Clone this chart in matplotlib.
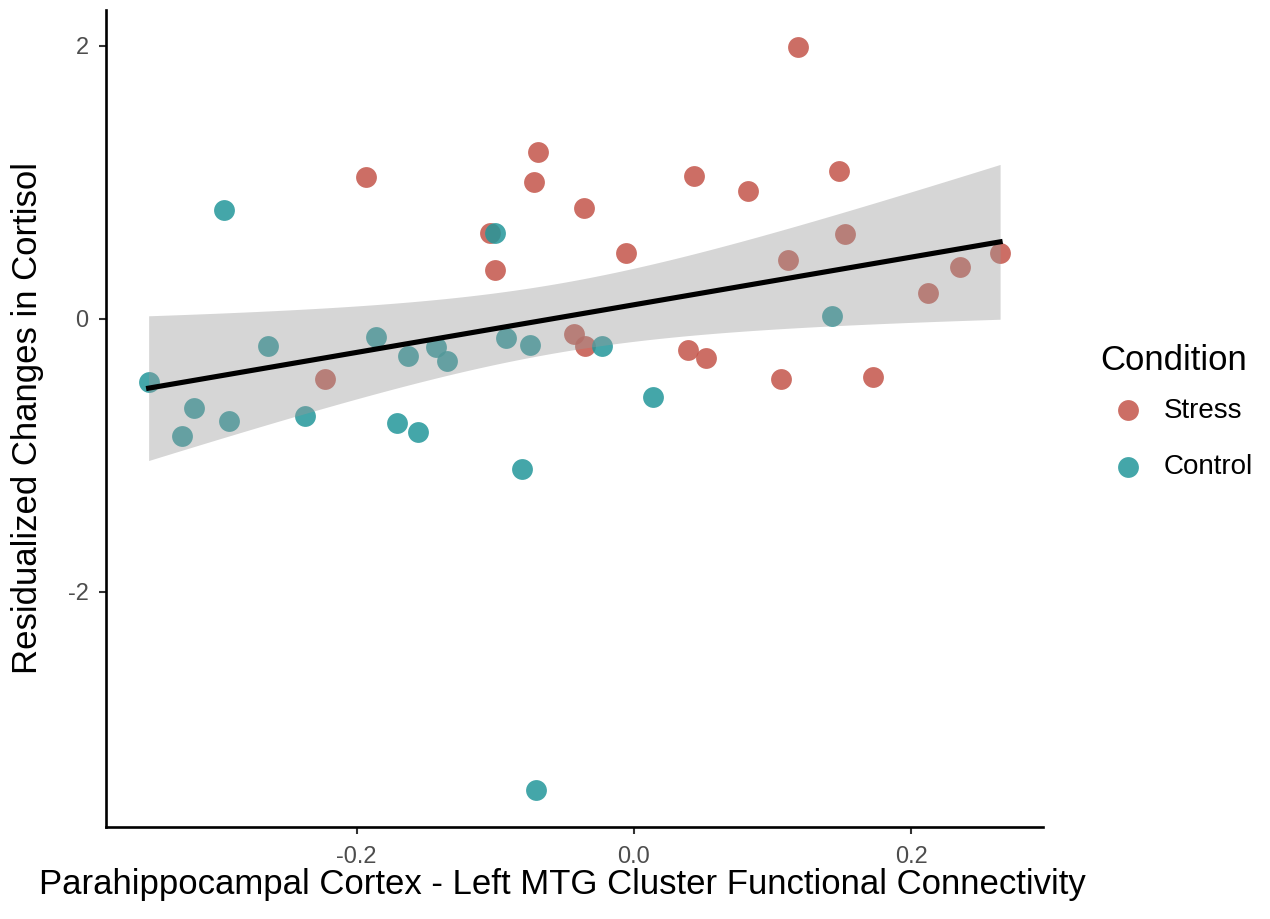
import numpy as np
import matplotlib
matplotlib.use('Agg')
import matplotlib.pyplot as plt

# Stress group (x = functional connectivity, y = residualized cortisol change)
stress_x = [0.118, -0.069, -0.072, -0.193, -0.036, -0.104, -0.100, -0.006,
            0.043, 0.082, 0.148, 0.152, 0.111, 0.264, 0.235, 0.212,
            -0.223, -0.043, -0.035, 0.039, 0.052, 0.106, 0.172]
stress_y = [1.99, 1.22, 1.00, 1.04, 0.81, 0.63, 0.36, 0.48,
            1.05, 0.94, 1.08, 0.62, 0.43, 0.48, 0.38, 0.19,
            -0.44, -0.11, -0.20, -0.23, -0.29, -0.44, -0.43]

# Control group
control_x = [-0.296, -0.100, -0.264, -0.186, -0.163, -0.143, -0.135, -0.092,
             -0.075, -0.350, -0.317, -0.292, -0.326, -0.237, -0.171, -0.156,
             -0.081, -0.023, 0.014, 0.143, -0.071]
control_y = [0.80, 0.63, -0.20, -0.13, -0.27, -0.21, -0.31, -0.14,
             -0.19, -0.46, -0.65, -0.75, -0.86, -0.71, -0.76, -0.83,
             -1.10, -0.20, -0.57, 0.02, -3.45]

x_ticks = [-0.2, 0.0, 0.2]
x_ticklabels = ['-0.2', '0.0', '0.2']
y_ticks = [-2, 0, 2]
y_ticklabels = ['-2', '0', '2']

stress_col = '#C4554A'
control_col = '#23979A'

plt.rcParams['font.family'] = ['Liberation Sans', 'DejaVu Sans']

fig = plt.figure(figsize=(12.7, 9.19), dpi=100)
ax = fig.add_axes([0.0835, 0.1004, 0.7375, 0.8886])

ax.scatter(stress_x, stress_y, s=225, color=stress_col, alpha=0.85,
           linewidths=0, label='Stress', zorder=2)
ax.scatter(control_x, control_y, s=225, color=control_col, alpha=0.85,
           linewidths=0, label='Control', zorder=2)

# linear fit over all points with 95% confidence band
xs = np.array(stress_x + control_x)
ys = np.array(stress_y + control_y)
n = len(xs)
slope, intercept = np.polyfit(xs, ys, 1)
resid = ys - (slope * xs + intercept)
s_err = np.sqrt(np.sum(resid ** 2) / (n - 2))
t_val = 2.018  # t(0.975, df=42)
xfit = np.linspace(xs.min(), xs.max(), 200)
yfit = slope * xfit + intercept
se = s_err * np.sqrt(1.0 / n + (xfit - xs.mean()) ** 2 / np.sum((xs - xs.mean()) ** 2))
ax.fill_between(xfit, yfit - t_val * se, yfit + t_val * se, color='#999999',
                alpha=0.4, linewidth=0, zorder=3)
ax.plot(xfit, yfit, color='black', lw=3.7, zorder=4)

# ggplot-like 5% expansion
xr = xs.max() - xs.min()
yr = ys.max() - ys.min()
ax.set_xlim(xs.min() - 0.05 * xr, xs.max() + 0.05 * xr)
ax.set_ylim(ys.min() - 0.05 * yr, ys.max() + 0.05 * yr)

ax.set_xticks(x_ticks)
ax.set_xticklabels(x_ticklabels)
ax.set_yticks(y_ticks)
ax.set_yticklabels(y_ticklabels)
ax.tick_params(axis='both', length=5, width=1.5, color='#333333',
               labelcolor='#4D4D4D')
ax.tick_params(axis='x', labelsize=17, pad=9)
ax.tick_params(axis='y', labelsize=17, pad=7.5)

for side in ['top', 'right']:
    ax.spines[side].set_visible(False)
for side in ['left', 'bottom']:
    ax.spines[side].set_linewidth(1.9)
    ax.spines[side].set_color('black')

ax.set_xlabel('Parahippocampal Cortex - Left MTG Cluster Functional Connectivity',
              fontsize=25)
ax.set_ylabel('Residualized Changes in Cortisol', fontsize=25)
ax.xaxis.set_label_coords(0.487, -0.051)
ax.yaxis.set_label_coords(-0.0667, 0.5)

leg = ax.legend(title='Condition', loc='center left', bbox_to_anchor=(1.061, 0.508),
                frameon=False, fontsize=20, title_fontsize=25, borderpad=0,
                borderaxespad=0, handlelength=2.0, handletextpad=0.3,
                labelspacing=1.1, markerscale=1.0)
leg._legend_box.align = 'left'
leg._legend_box.sep = 15

fig.savefig('out.png', dpi=100)
